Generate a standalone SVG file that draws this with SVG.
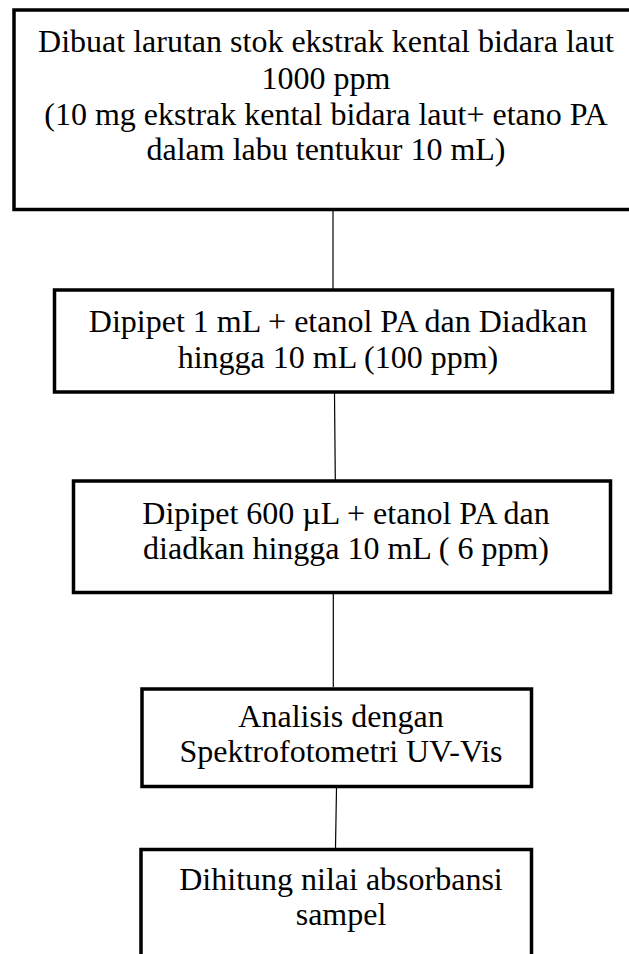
<svg xmlns="http://www.w3.org/2000/svg" width="629" height="954" viewBox="0 0 629 954">
  <style>
    .box { fill: #ffffff; stroke: #000000; stroke-width: 3.5; }
    .link { stroke: #000000; stroke-width: 1.2; fill: none; }
    text { font-family: "Liberation Serif", "Times New Roman", serif; font-size: 32px; fill: #000000; text-anchor: middle; }
  </style>
  <rect width="629" height="954" fill="#ffffff"/>

  <!-- connectors between the steps -->
  <g id="connectors">
    <line class="link" x1="333" y1="211" x2="333" y2="289"/>
    <line class="link" x1="334.5" y1="393" x2="335.3" y2="480"/>
    <line class="link" x1="333.3" y1="594" x2="333.3" y2="687"/>
    <line class="link" x1="336.5" y1="788" x2="335.5" y2="848"/>
  </g>

  <g id="step-stock">
    <rect class="box" x="14" y="10" width="624" height="199.5"/>
    <text x="326" y="52">Dibuat larutan stok ekstrak kental bidara laut</text>
    <text x="326" y="88.5">1000 ppm</text>
    <text x="326" y="124.5">(10 mg ekstrak kental bidara laut+ etano PA</text>
    <text x="326" y="160">dalam labu tentukur 10 mL)</text>
  </g>

  <g id="step-dilution-100">
    <rect class="box" x="54.5" y="290" width="558" height="102"/>
    <text x="338" y="332">Dipipet 1 mL + etanol PA dan Diadkan</text>
    <text x="338" y="368">hingga 10 mL (100 ppm)</text>
  </g>

  <g id="step-dilution-6">
    <rect class="box" x="73.5" y="481" width="537" height="111.5"/>
    <text x="346" y="523.5">Dipipet 600 µL + etanol PA dan</text>
    <text x="346" y="558.5">diadkan hingga 10 mL ( 6 ppm)</text>
  </g>

  <g id="step-analysis">
    <rect class="box" x="142" y="689" width="389.5" height="97.5"/>
    <text x="341" y="726.5">Analisis dengan</text>
    <text x="341" y="762">Spektrofotometri UV-Vis</text>
  </g>

  <g id="step-absorbance">
    <rect class="box" x="141" y="849.5" width="390.5" height="130"/>
    <text x="341" y="889.5">Dihitung nilai absorbansi</text>
    <text x="341" y="924.5">sampel</text>
  </g>
</svg>
